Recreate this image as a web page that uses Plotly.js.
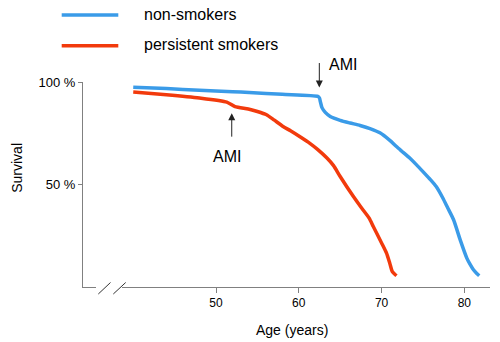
<!DOCTYPE html>
<html>
<head>
<meta charset="utf-8">
<script src="https://cdn.plot.ly/plotly-3.0.1.min.js"></script>
<style>html,body{margin:0;padding:0;background:#fff}#chart{width:500px;height:342px}</style>
</head>
<body>
<div id="chart"></div>
<script>
// Series names
const seriesNames = ['non-smokers', 'persistent smokers'];
// Non-smokers survival curve (age in years, survival in %)
const nonSmokerAge = [40, 44, 48, 52, 54, 58, 62.3, 62.5, 62.6, 62.8, 63.2, 63.8, 65, 66.2, 67.4, 68.6, 69.8, 71, 71.8, 72.6, 73.4, 74.2, 75, 75.8, 76.6, 77.4, 78, 78.7, 79.5, 80.3, 80.7, 81.1, 81.5, 81.8];
const nonSmokerSurv = [97.5, 96.8, 96.0, 95.3, 94.9, 94.0, 93.0, 92.2, 90.5, 87.5, 85.2, 83.2, 81.3, 80.0, 78.8, 77.3, 75.2, 71.5, 68.5, 65.7, 62.9, 59.7, 56.3, 52.8, 49.0, 43.4, 38.5, 32.8, 23.0, 14.1, 11.0, 8.4, 6.6, 5.5];
// Persistent smokers survival curve
const smokerAge = [40, 44, 48, 51.3, 52.3, 53.9, 55, 56.1, 57, 58.1, 59, 60.1, 61.3, 62.3, 63.4, 64.2, 65.0, 66.6, 67.5, 68.5, 69.0, 70.0, 70.6, 71.0, 71.3, 71.8];
const smokerSurv = [95.1, 93.8, 92.2, 90.2, 88.0, 86.8, 85.6, 84.0, 81.5, 78.3, 76.2, 73.4, 70.2, 67.0, 62.9, 59.2, 53.9, 44.1, 39.0, 33.6, 29.5, 21.5, 16.5, 11.5, 7.5, 5.5];
// Ticks
const xTickVals = [50, 60, 70, 80];
const xTickText = ['50', '60', '70', '80'];
const yTickVals = [50, 100];
const yTickText = ['50 %', '100 %'];
// AMI events: [age, survival]
const amiNonSmoker = [62.48, 97.3];
const amiSmoker = [51.9, 84.8];

const blue = '#3a9be8';
const red = '#f23a0c';

const traces = [
  {x: nonSmokerAge, y: nonSmokerSurv, mode: 'lines', name: seriesNames[0], line: {color: blue, width: 3.5, shape: 'spline', smoothing: 0.6}, showlegend: false},
  {x: smokerAge, y: smokerSurv, mode: 'lines', name: seriesNames[1], line: {color: red, width: 3.5, shape: 'spline', smoothing: 0.6}, showlegend: false}
];

// plot area: x 83..490, y 82..287
const L = 83, R = 490, T = 82, B = 287;
const px = X => (X - L) / (R - L);
const py = Y => (B - Y) / (B - T);

const font = {family: 'Liberation Sans, Arial, sans-serif', color: '#000'};

const layout = {
  width: 500, height: 342,
  margin: {l: L, r: 500 - R, t: T, b: 342 - B, pad: 0},
  paper_bgcolor: '#fff', plot_bgcolor: '#fff',
  showlegend: false,
  font: Object.assign({size: 12}, font),
  xaxis: {
    range: [33.93, 83.1], showgrid: false, zeroline: false,
    showline: true, linecolor: '#808080', linewidth: 1,
    ticks: 'outside', ticklen: 5, tickcolor: '#808080', tickwidth: 1,
    tickvals: xTickVals, ticktext: xTickText,
    tickfont: Object.assign({size: 12}, font)
  },
  yaxis: {
    range: [0, 100], showgrid: false, zeroline: false,
    showline: true, linecolor: '#808080', linewidth: 1,
    ticks: 'outside', ticklen: 4, tickcolor: '#808080', tickwidth: 1,
    tickvals: yTickVals, ticktext: yTickText,
    tickfont: Object.assign({size: 13}, font)
  },
  shapes: [
    // legend lines
    {type: 'line', xref: 'paper', yref: 'paper', x0: px(61.7), x1: px(118.3), y0: py(15), y1: py(15), line: {color: blue, width: 3.5}},
    {type: 'line', xref: 'paper', yref: 'paper', x0: px(61.7), x1: px(118.3), y0: py(45.7), y1: py(45.7), line: {color: red, width: 3.5}},
    // axis break gap
    {type: 'rect', xref: 'paper', yref: 'paper', layer: 'above', x0: px(96), x1: px(122), y0: py(289.5), y1: py(284.5), fillcolor: '#fff', line: {width: 0}},
    // break slashes
    {type: 'line', xref: 'paper', yref: 'paper', layer: 'above', x0: px(98.3), y0: py(294), x1: px(110.5), y1: py(282.5), line: {color: '#333', width: 1}},
    {type: 'line', xref: 'paper', yref: 'paper', layer: 'above', x0: px(113.3), y0: py(294), x1: px(125.7), y1: py(282.5), line: {color: '#333', width: 1}}
  ],
  annotations: [
    {xref: 'paper', yref: 'paper', x: px(141.7), y: py(14.5), xanchor: 'left', yanchor: 'middle', text: seriesNames[0], showarrow: false, font: Object.assign({size: 16}, font)},
    {xref: 'paper', yref: 'paper', x: px(141.7), y: py(44.5), xanchor: 'left', yanchor: 'middle', text: seriesNames[1], showarrow: false, font: Object.assign({size: 16}, font)},
    {xref: 'paper', yref: 'paper', x: px(291.7), y: py(329.5), xanchor: 'center', yanchor: 'middle', text: 'Age (years)', showarrow: false, font: Object.assign({size: 14}, font)},
    {xref: 'paper', yref: 'paper', x: px(17.5), y: py(168.3), xanchor: 'center', yanchor: 'middle', text: 'Survival', textangle: -90, showarrow: false, font: Object.assign({size: 14}, font)},
    // AMI arrows
    {x: amiNonSmoker[0], y: amiNonSmoker[1], text: '', showarrow: true, ax: 0, ay: -26, arrowhead: 2, arrowsize: 1.4, arrowwidth: 1, arrowcolor: '#222', standoff: 0},
    {x: amiSmoker[0], y: amiSmoker[1], text: '', showarrow: true, ax: 0, ay: 25, arrowhead: 2, arrowsize: 1.4, arrowwidth: 1, arrowcolor: '#222', standoff: 0},
    {xref: 'paper', yref: 'paper', x: px(326.5), y: py(65), xanchor: 'left', yanchor: 'middle', text: 'AMI', showarrow: false, font: Object.assign({size: 16}, font)},
    {xref: 'paper', yref: 'paper', x: px(226.8), y: py(156.5), xanchor: 'center', yanchor: 'middle', text: 'AMI', showarrow: false, font: Object.assign({size: 16}, font)}
  ]
};

Plotly.newPlot('chart', traces, layout, {staticPlot: true, displayModeBar: false});
</script>
</body>
</html>
